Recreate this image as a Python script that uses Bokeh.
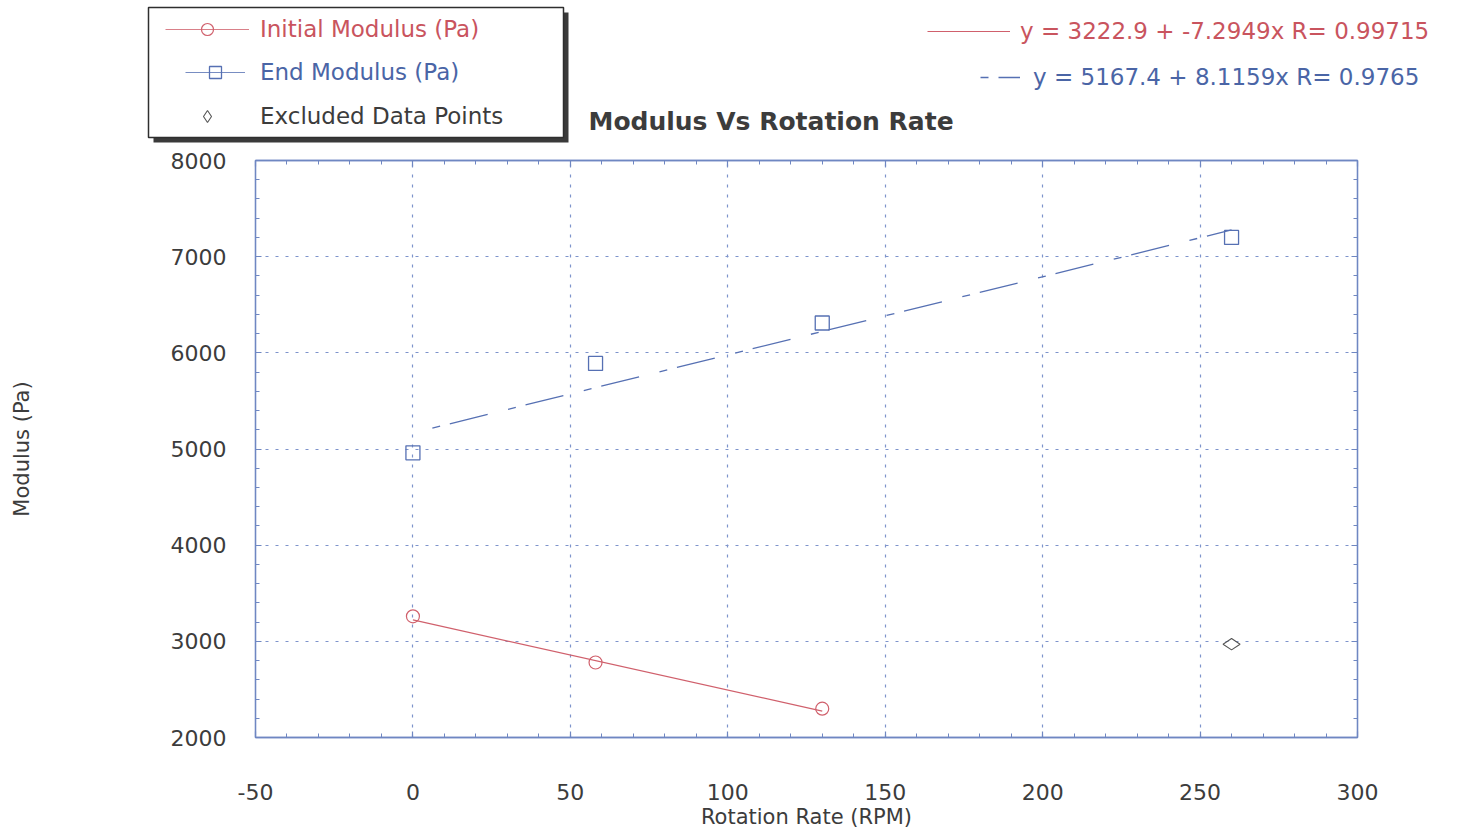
from bokeh.plotting import figure
from bokeh.models import (LinearAxis, SingleIntervalTicker, Legend, LegendItem, Label,
                          Range1d, NumeralTickFormatter)
from bokeh.embed import file_html
from bokeh.resources import INLINE

# ---------------- data ----------------
init_x = [0, 58, 130]
init_y = [3260, 2780, 2300]
end_x = [0, 58, 130, 260]
end_y = [4960, 5890, 6310, 7200]
excl_x = [260]
excl_y = [2970]

init_intercept, init_slope = 3222.9, -7.2949
end_intercept, end_slope = 5167.4, 8.1159
init_fit_x = [0, 130]
end_fit_x = [0, 260]

series_labels = ["Initial Modulus (Pa)", "End Modulus (Pa)", "Excluded Data Points"]
fit_labels = ["y = 3222.9 + -7.2949x R= 0.99715", "y = 5167.4 + 8.1159x R= 0.9765"]
title_text = "Modulus Vs Rotation Rate"
x_label = "Rotation Rate (RPM)"
y_label = "Modulus (Pa)"

# ---------------- styles ----------------
RED = "#d0606c"
RED_TXT = "#c9545e"
BLUE = "#5670b3"
BLUE_TXT = "#4a65a6"
GREY_TXT = "#3c3c3c"
FRAME = "#6f87c2"
GRID = "#7d93cb"
FONT = "DejaVu Sans"
W = 1460
TOP_H = 150
MAIN_H = 686
NAN = float("nan")

CIRCLE = dict(marker="circle", size=13, fill_color=None, line_color=RED, line_width=1.2)
SQUARE = dict(marker="square", size=14, fill_color=None, line_color=BLUE, line_width=1.3)
DIAMOND = dict(marker="diamond", size=17, angle=1.5708, fill_color=None,
               line_color="#555555", line_width=1.1)
RED_LINE = dict(line_color=RED, line_width=1.2)
BLUE_DASH = dict(line_color=BLUE, line_width=1.3, line_dash="39 21 8 10", line_dash_offset=40)

# ================= main plot =================
p = figure(width=W, height=MAIN_H, x_range=Range1d(-50, 300), y_range=Range1d(2000, 8000),
           output_backend="svg", toolbar_location=None,
           min_border_left=255, min_border_right=W - 1357, min_border_top=10,
           min_border_bottom=99)
p.background_fill_color = "white"
p.border_fill_color = "white"
p.outline_line_color = FRAME
p.outline_line_width = 1.3

xt = SingleIntervalTicker(interval=50, num_minor_ticks=5)
yt = SingleIntervalTicker(interval=1000, num_minor_ticks=5)


def style_axis(ax, show_labels=True):
    ax.axis_line_color = FRAME
    ax.axis_line_width = 1.3
    ax.major_tick_in = 6
    ax.major_tick_out = 0
    ax.minor_tick_in = 4
    ax.minor_tick_out = 0
    ax.major_tick_line_color = FRAME
    ax.minor_tick_line_color = FRAME
    ax.major_tick_line_width = 1.2
    ax.minor_tick_line_width = 1.0
    ax.formatter = NumeralTickFormatter(format="0")
    ax.major_label_text_font = FONT
    ax.major_label_text_font_size = "22px" if show_labels else "0px"
    ax.major_label_text_color = GREY_TXT if show_labels else None
    if not show_labels:
        ax.major_label_standoff = 0
    ax.axis_label_text_font = FONT
    ax.axis_label_text_font_style = "normal"
    ax.axis_label_text_font_size = "21px"
    ax.axis_label_text_color = GREY_TXT


xa = p.xaxis[0]
xa.ticker = xt
style_axis(xa)
xa.major_label_standoff = 46
xa.axis_label = x_label
xa.axis_label_standoff = 2

ya = p.yaxis[0]
ya.ticker = yt
style_axis(ya)
ya.major_label_standoff = 29
ya.axis_label = y_label
ya.axis_label_standoff = 134

top_ax = LinearAxis(ticker=xt)
style_axis(top_ax, show_labels=False)
p.add_layout(top_ax, "above")
right_ax = LinearAxis(ticker=yt)
style_axis(right_ax, show_labels=False)
p.add_layout(right_ax, "right")

p.xgrid.ticker = xt
p.ygrid.ticker = yt
for g in (p.xgrid, p.ygrid):
    g.grid_line_color = GRID
    g.grid_line_dash = "3 7"
    g.grid_line_width = 1.2

init_fit_y = [init_intercept + init_slope * x for x in init_fit_x]
end_fit_y = [end_intercept + end_slope * x for x in end_fit_x]
p.line(init_fit_x, init_fit_y, **RED_LINE)
p.line(end_fit_x, end_fit_y, **BLUE_DASH)

p.scatter(init_x, init_y, **CIRCLE)
p.scatter(end_x, end_y, **SQUARE)
p.scatter(excl_x, excl_y, **DIAMOND)

# ================= header (legends + title) =================
h = figure(width=W, height=TOP_H, x_range=Range1d(0, W), y_range=Range1d(TOP_H, 0),
           output_backend="svg", toolbar_location=None,
           min_border_left=0, min_border_right=0, min_border_top=0, min_border_bottom=0)
h.axis.visible = False
h.grid.visible = False
h.outline_line_color = None
h.background_fill_color = "white"
h.border_fill_color = "white"

# legend frame with drop shadow
h.quad(left=[153], right=[568], top=[12], bottom=[142], fill_color="#3a3a3a", line_color=None)
h.quad(left=[148], right=[563], top=[7], bottom=[137], fill_color="white",
       line_color="#2e2e2e", line_width=1.5)

# legend-only renderers (one NaN point, so nothing is drawn in the header itself)
lg_init_line = h.line(x=[NAN], y=[NAN], line_color=RED, line_width=1, line_alpha=0.8)
lg_init_pt = h.scatter(x=[NAN], y=[NAN], **CIRCLE)
lg_end_line = h.line(x=[NAN], y=[NAN], line_color=BLUE, line_width=1, line_alpha=0.8)
lg_end_pt = h.scatter(x=[NAN], y=[NAN], **SQUARE)
lg_excl_pt = h.scatter(x=[NAN], y=[NAN], **DIAMOND)
lg_fit_init = h.line(x=[NAN], y=[NAN], **RED_LINE)
lg_fit_end = h.line(x=[NAN], y=[NAN], **BLUE_DASH)


def add_legend(items, loc, glyph_w, standoff, color):
    lg = Legend(items=items, location=loc, orientation="vertical",
                border_line_color=None, background_fill_alpha=0.0,
                padding=0, margin=0, spacing=0,
                glyph_width=glyph_w, glyph_height=30, label_height=30,
                label_standoff=standoff, label_text_font=FONT,
                label_text_font_size="23px", label_text_color=color)
    h.add_layout(lg)
    return lg


# location = (left x, bottom y measured up from the header's bottom edge)
add_legend([LegendItem(label=series_labels[0], renderers=[lg_init_line, lg_init_pt])],
           (165, TOP_H - 44), 84, 11, RED_TXT)
add_legend([LegendItem(label=series_labels[1], renderers=[lg_end_line, lg_end_pt])],
           (185, TOP_H - 87), 60, 15, BLUE_TXT)
add_legend([LegendItem(label=series_labels[2], renderers=[lg_excl_pt])],
           (165, TOP_H - 131), 84, 11, GREY_TXT)
add_legend([LegendItem(label=fit_labels[0], renderers=[lg_fit_init])],
           (927, TOP_H - 46), 83, 10, RED_TXT)
add_legend([LegendItem(label=fit_labels[1], renderers=[lg_fit_end])],
           (960, TOP_H - 92), 60, 13, BLUE_TXT)

h.add_layout(Label(x=588, y=121, text=title_text, text_font=FONT, text_font_style="bold",
                   text_font_size="25px", text_color=GREY_TXT, text_baseline="middle",
                   text_align="left"))

open("out.html", "w").write(file_html([h, p], INLINE))
